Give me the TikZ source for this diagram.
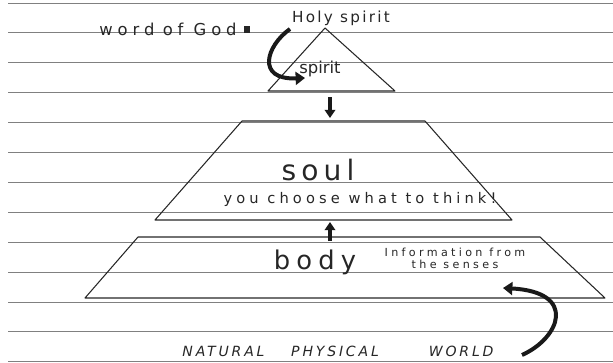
\documentclass[tikz,border=0pt]{standalone}
\usepackage{fontspec}
\usepackage{tikz}
\usetikzlibrary{arrows.meta,positioning}
\newfontfamily\handfont{DejaVu Sans}

\begin{document}
\begin{tikzpicture}[
    x=0.03cm, y=-0.03cm,
    rule/.style={draw=black!50, line width=0.75pt},
    outline/.style={draw=black!85, line width=0.9pt, line join=round},
    label/.style={inner sep=0pt, text=black!85},
    bigarrow/.style={-{Triangle[length=7pt, width=9pt]}, line width=2.6pt, black!90},
    curlarrow/.style={-{Triangle[length=8pt, width=11pt]}, line width=3.4pt, black!90}
]
\useasboundingbox (0,0) rectangle (613,363);
% ruled paper
\foreach \k in {0,...,12}
    \draw[rule] (8,{3+29.9*\k}) -- (613,{3+29.9*\k});

% shapes
\coordinate (apex) at (325,28);
\coordinate (tri-l) at (268,91);
\coordinate (tri-r) at (395,91);
\coordinate (soul-tl) at (242,121);
\coordinate (soul-tr) at (425,121);
\coordinate (soul-br) at (512,220);
\coordinate (soul-bl) at (155,220);
\coordinate (body-tl) at (138,237);
\coordinate (body-tr) at (540,237);
\coordinate (body-br) at (605,298);
\coordinate (body-bl) at (85,298);
\draw[outline] (apex) -- (tri-r) -- (tri-l) -- cycle;
\draw[outline] (soul-tl) -- (soul-tr) -- (soul-br) -- (soul-bl) -- cycle;
\draw[outline] (body-tl) -- (body-tr) -- (body-br) -- (body-bl) -- cycle;

% labels
\node[label, font=\handfont\fontsize{13}{15}\selectfont\addfontfeature{LetterSpace=15}] (holy) at (341,18) {Holy spirit};
\node[label, font=\handfont\fontsize{14}{16}\selectfont\addfontfeature{LetterSpace=30}] (word) at (168,29) {word\hspace{0.25cm}of God};
\fill[black!85] (244,26) rectangle (250,33);
\node[label, font=\handfont\fontsize{14}{16}\selectfont] (spirit) at (320,69) {spirit};
\node[label, font=\handfont\fontsize{24}{28}\selectfont\addfontfeature{LetterSpace=18}] (soul) at (318,170) {soul};
\node[label, font=\handfont\fontsize{12.5}{14}\selectfont\addfontfeature{LetterSpace=28}] (choose) at (360,199) {you choose what to think!};
\node[label, font=\handfont\fontsize{22}{26}\selectfont\addfontfeature{LetterSpace=24}] (body) at (315,262) {body};
\node[label, align=center, font=\handfont\fontsize{9.5}{10}\selectfont\addfontfeature{LetterSpace=30}] (senses) at (455,258) {Information from\\the senses};
\node[label, font=\handfont\itshape\fontsize{12}{14}\selectfont\addfontfeature{LetterSpace=20}] (world) at (338,351) {NATURAL\hspace{0.8cm}PHYSICAL\hspace{1.5cm}WORLD};

% arrows
\coordinate (tri-out) at (330,97);
\coordinate (soul-in) at (330,118);
\coordinate (body-out) at (330,241);
\coordinate (soul-out) at (330,222);
\draw[bigarrow] (tri-out) -- (soul-in);
\draw[bigarrow] (body-out) -- (soul-out);
\coordinate (god-start) at (290,29);
\coordinate (spirit-end) at (305,78);
\draw[curlarrow] (god-start) .. controls (266,46) and (256,80) .. (spirit-end);
\coordinate (world-start) at (522,355);
\coordinate (senses-end) at (503,288);
\draw[curlarrow] (world-start) .. controls (560,338) and (578,292) .. (senses-end);
\end{tikzpicture}
\end{document}
